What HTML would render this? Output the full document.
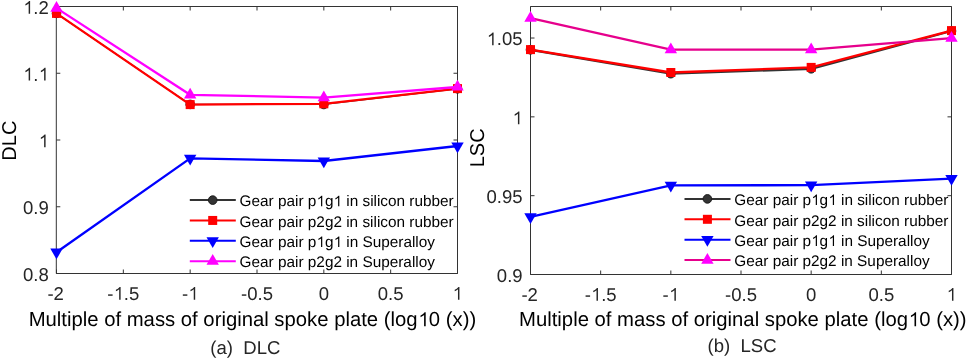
<!DOCTYPE html>
<html><head><meta charset="utf-8"><style>
html,body{margin:0;padding:0;background:#fff;}
body{width:968px;height:360px;overflow:hidden;}
svg{display:block;font-family:"Liberation Sans",sans-serif;will-change:transform;}
text{white-space:pre;font-kerning:none;text-rendering:geometricPrecision;}
.h{fill-opacity:0;}
</style></head><body>
<svg width="968" height="360" viewBox="0 0 968 360">
<rect width="968" height="360" fill="#ffffff"/>
<path d="M56.30 6.5H457.5V273.5H56.30Z" fill="none" stroke="#333333" stroke-width="1"/>
<path d="M56.50 273.5V269.5M56.50 6.5V10.5M123.33 273.5V269.5M123.33 6.5V10.5M190.17 273.5V269.5M190.17 6.5V10.5M257.00 273.5V269.5M257.00 6.5V10.5M323.83 273.5V269.5M323.83 6.5V10.5M390.67 273.5V269.5M390.67 6.5V10.5M457.50 273.5V269.5M457.50 6.5V10.5M56.30 273.50H60.30M457.5 273.50H453.5M56.30 206.75H60.30M457.5 206.75H453.5M56.30 140.00H60.30M457.5 140.00H453.5M56.30 73.25H60.30M457.5 73.25H453.5M56.30 6.50H60.30M457.5 6.50H453.5" stroke="#333333" stroke-width="1" fill="none"/>
<path d="M530.50 6.5H951.5V274.5H530.50Z" fill="none" stroke="#333333" stroke-width="1"/>
<path d="M530.50 274.5V270.5M530.50 6.5V10.5M600.67 274.5V270.5M600.67 6.5V10.5M670.83 274.5V270.5M670.83 6.5V10.5M741.00 274.5V270.5M741.00 6.5V10.5M811.17 274.5V270.5M811.17 6.5V10.5M881.33 274.5V270.5M881.33 6.5V10.5M951.50 274.5V270.5M951.50 6.5V10.5M530.50 274.50H534.50M951.5 274.50H947.5M530.50 195.68H534.50M951.5 195.68H947.5M530.50 116.85H534.50M951.5 116.85H947.5M530.50 38.03H534.50M951.5 38.03H947.5" stroke="#333333" stroke-width="1" fill="none"/>
<polyline points="56.50,13.40 190.17,104.40 323.83,104.50 457.50,88.80" fill="none" stroke="#333333" stroke-width="1.2" stroke-linejoin="miter"/>
<circle cx="56.50" cy="13.40" r="4.3" fill="#333333" stroke="#1c1c1c" stroke-width="1"/>
<circle cx="190.17" cy="104.40" r="4.3" fill="#333333" stroke="#1c1c1c" stroke-width="1"/>
<circle cx="323.83" cy="104.50" r="4.3" fill="#333333" stroke="#1c1c1c" stroke-width="1"/>
<circle cx="457.50" cy="88.80" r="4.3" fill="#333333" stroke="#1c1c1c" stroke-width="1"/>
<polyline points="56.50,13.40 190.17,104.60 323.83,103.80 457.50,88.60" fill="none" stroke="#ff0000" stroke-width="2.3" stroke-linejoin="miter"/>
<rect x="52.00" y="8.90" width="9.0" height="9.0" fill="#ff0000"/>
<rect x="185.67" y="100.10" width="9.0" height="9.0" fill="#ff0000"/>
<rect x="319.33" y="99.30" width="9.0" height="9.0" fill="#ff0000"/>
<rect x="453.00" y="84.10" width="9.0" height="9.0" fill="#ff0000"/>
<polyline points="56.50,252.20 190.17,158.30 323.83,161.00 457.50,146.00" fill="none" stroke="#0000ff" stroke-width="2.3" stroke-linejoin="miter"/>
<polygon points="56.50,259.36 50.30,248.62 62.70,248.62" fill="#0000ff"/>
<polygon points="190.17,165.46 183.97,154.72 196.37,154.72" fill="#0000ff"/>
<polygon points="323.83,168.16 317.63,157.42 330.03,157.42" fill="#0000ff"/>
<polygon points="457.50,153.16 451.30,142.42 463.70,142.42" fill="#0000ff"/>
<polyline points="56.50,8.10 190.17,94.80 323.83,97.60 457.50,87.00" fill="none" stroke="#ff00ff" stroke-width="2.3" stroke-linejoin="miter"/>
<polygon points="56.50,0.94 50.30,11.68 62.70,11.68" fill="#ff00ff"/>
<polygon points="190.17,87.64 183.97,98.38 196.37,98.38" fill="#ff00ff"/>
<polygon points="323.83,90.44 317.63,101.18 330.03,101.18" fill="#ff00ff"/>
<polygon points="457.50,79.84 451.30,90.58 463.70,90.58" fill="#ff00ff"/>
<polyline points="530.50,49.80 670.83,73.70 811.17,68.80 951.50,31.00" fill="none" stroke="#333333" stroke-width="2.3" stroke-linejoin="miter"/>
<circle cx="530.50" cy="49.80" r="4.3" fill="#333333" stroke="#1c1c1c" stroke-width="1"/>
<circle cx="670.83" cy="73.70" r="4.3" fill="#333333" stroke="#1c1c1c" stroke-width="1"/>
<circle cx="811.17" cy="68.80" r="4.3" fill="#333333" stroke="#1c1c1c" stroke-width="1"/>
<circle cx="951.50" cy="31.00" r="4.3" fill="#333333" stroke="#1c1c1c" stroke-width="1"/>
<polyline points="530.50,49.60 670.83,72.50 811.17,67.40 951.50,30.60" fill="none" stroke="#ff0000" stroke-width="2.3" stroke-linejoin="miter"/>
<rect x="526.00" y="45.10" width="9.0" height="9.0" fill="#ff0000"/>
<rect x="666.33" y="68.00" width="9.0" height="9.0" fill="#ff0000"/>
<rect x="806.67" y="62.90" width="9.0" height="9.0" fill="#ff0000"/>
<rect x="947.00" y="26.10" width="9.0" height="9.0" fill="#ff0000"/>
<polyline points="530.50,216.80 670.83,185.30 811.17,185.20 951.50,178.60" fill="none" stroke="#0000ff" stroke-width="2.3" stroke-linejoin="miter"/>
<polygon points="530.50,223.96 524.30,213.22 536.70,213.22" fill="#0000ff"/>
<polygon points="670.83,192.46 664.63,181.72 677.03,181.72" fill="#0000ff"/>
<polygon points="811.17,192.36 804.97,181.62 817.37,181.62" fill="#0000ff"/>
<polygon points="951.50,185.76 945.30,175.02 957.70,175.02" fill="#0000ff"/>
<polyline points="530.50,18.10 670.83,49.60 811.17,49.60 951.50,38.10" fill="none" stroke="#e6008c" stroke-width="2.3" stroke-linejoin="miter"/>
<polygon points="530.50,10.94 524.30,21.68 536.70,21.68" fill="#ff00ff"/>
<polygon points="670.83,42.44 664.63,53.18 677.03,53.18" fill="#ff00ff"/>
<polygon points="811.17,42.44 804.97,53.18 817.37,53.18" fill="#ff00ff"/>
<polygon points="951.50,30.94 945.30,41.68 957.70,41.68" fill="#ff00ff"/>
<text x="55.70" y="299.70" font-size="18.55" text-anchor="middle" fill="#262626">-2</text>
<text x="529.70" y="300.70" font-size="18.55" text-anchor="middle" fill="#262626">-2</text>
<text x="123.33" y="299.70" font-size="18.55" text-anchor="middle" fill="#262626">-<tspan class="h">1</tspan>.5</text>
<path d="M119.17 299.7V289.31L118.24 290.1L117.06 290.78L115.91 291.36V289.79L117.51 288.92L118.69 287.93L119.65 286.94H120.62V299.7Z" fill="#262626"/>
<text x="600.67" y="300.70" font-size="18.55" text-anchor="middle" fill="#262626">-<tspan class="h">1</tspan>.5</text>
<path d="M596.5 300.7V290.31L595.57 291.1L594.39 291.78L593.24 292.36V290.79L594.85 289.92L596.02 288.93L596.98 287.94H597.95V300.7Z" fill="#262626"/>
<text x="190.17" y="299.70" font-size="18.55" text-anchor="middle" fill="#262626">-<tspan class="h">1</tspan></text>
<path d="M193.74 299.7V289.31L192.81 290.1L191.63 290.78L190.48 291.36V289.79L192.08 288.92L193.26 287.93L194.22 286.94H195.19V299.7Z" fill="#262626"/>
<text x="670.83" y="300.70" font-size="18.55" text-anchor="middle" fill="#262626">-<tspan class="h">1</tspan></text>
<path d="M674.41 300.7V290.31L673.47 291.1L672.3 291.78L671.15 292.36V290.79L672.75 289.92L673.93 288.93L674.89 287.94H675.86V300.7Z" fill="#262626"/>
<text x="257.00" y="299.70" font-size="18.55" text-anchor="middle" fill="#262626">-0.5</text>
<text x="741.00" y="300.70" font-size="18.55" text-anchor="middle" fill="#262626">-0.5</text>
<text x="323.83" y="299.70" font-size="18.55" text-anchor="middle" fill="#262626">0</text>
<text x="811.17" y="300.70" font-size="18.55" text-anchor="middle" fill="#262626">0</text>
<text x="390.67" y="299.70" font-size="18.55" text-anchor="middle" fill="#262626">0.5</text>
<text x="881.33" y="300.70" font-size="18.55" text-anchor="middle" fill="#262626">0.5</text>
<text x="457.50" y="299.70" font-size="18.55" text-anchor="middle" fill="#262626"><tspan class="h">1</tspan></text>
<path d="M457.98 299.7V289.31L457.05 290.1L455.87 290.78L454.72 291.36V289.79L456.33 288.92L457.5 287.93L458.46 286.94H459.43V299.7Z" fill="#262626"/>
<text x="951.50" y="300.70" font-size="18.55" text-anchor="middle" fill="#262626"><tspan class="h">1</tspan></text>
<path d="M951.98 300.7V290.31L951.05 291.1L949.87 291.78L948.72 292.36V290.79L950.33 289.92L951.5 288.93L952.46 287.94H953.43V300.7Z" fill="#262626"/>
<text x="48.80" y="280.80" font-size="18.55" text-anchor="end" fill="#262626">0.8</text>
<text x="48.80" y="214.05" font-size="18.55" text-anchor="end" fill="#262626">0.9</text>
<text x="48.80" y="147.30" font-size="18.55" text-anchor="end" fill="#262626"><tspan class="h">1</tspan></text>
<path d="M44.13 147.3V136.91L43.19 137.7L42.02 138.38L40.87 138.96V137.39L42.47 136.52L43.65 135.53L44.61 134.54H45.58V147.3Z" fill="#262626"/>
<text x="48.80" y="80.55" font-size="18.55" text-anchor="end" fill="#262626"><tspan class="h">1</tspan>.<tspan class="h">1</tspan></text>
<path d="M28.66 80.55V70.16L27.72 70.95L26.55 71.63L25.4 72.21V70.64L27 69.77L28.18 68.78L29.14 67.79H30.11V80.55ZM44.13 80.55V70.16L43.19 70.95L42.02 71.63L40.87 72.21V70.64L42.47 69.77L43.65 68.78L44.61 67.79H45.58V80.55Z" fill="#262626"/>
<text x="48.80" y="13.80" font-size="18.55" text-anchor="end" fill="#262626"><tspan class="h">1</tspan>.2</text>
<path d="M28.66 13.8V3.41L27.72 4.2L26.55 4.88L25.4 5.46V3.89L27 3.02L28.18 2.03L29.14 1.04H30.11V13.8Z" fill="#262626"/>
<text x="522.60" y="281.80" font-size="18.55" text-anchor="end" fill="#262626">0.9</text>
<text x="522.60" y="202.98" font-size="18.55" text-anchor="end" fill="#262626">0.95</text>
<text x="522.60" y="124.15" font-size="18.55" text-anchor="end" fill="#262626"><tspan class="h">1</tspan></text>
<path d="M517.93 124.15V113.76L516.99 114.55L515.82 115.23L514.67 115.81V114.24L516.27 113.37L517.45 112.38L518.41 111.39H519.38V124.15Z" fill="#262626"/>
<text x="522.60" y="45.33" font-size="18.55" text-anchor="end" fill="#262626"><tspan class="h">1</tspan>.05</text>
<path d="M492.14 45.33V34.94L491.21 35.73L490.03 36.41L488.88 36.99V35.42L490.48 34.55L491.66 33.55L492.62 32.57H493.59V45.33Z" fill="#262626"/>
<text x="28.65" y="326.30" font-size="20.3" text-anchor="start" fill="#000">Multiple of mass of original spoke plate (log<tspan class="h">1</tspan>0 (x))</text>
<path d="M424.1 326.3V314.93L423.08 315.79L421.79 316.54L420.54 317.17V315.46L422.29 314.5L423.58 313.41L424.63 312.33H425.69V326.3Z" fill="#000"/>
<text x="519.05" y="326.30" font-size="20.3" text-anchor="start" fill="#000">Multiple of mass of original spoke plate (log<tspan class="h">1</tspan>0 (x))</text>
<path d="M914.5 326.3V314.93L913.48 315.79L912.19 316.54L910.94 317.17V315.46L912.69 314.5L913.98 313.41L915.03 312.33H916.09V326.3Z" fill="#000"/>
<text x="15.80" y="160.65" font-size="20.0" fill="#000" transform="rotate(-90 15.80 160.65)">DLC</text>
<text x="483.90" y="167.25" font-size="20.0" fill="#000" transform="rotate(-90 483.90 167.25)">LSC</text>
<text x="210.30" y="353.60" font-size="18.55" text-anchor="start" fill="#262626">(a)  DLC</text>
<text x="707.60" y="351.50" font-size="18.55" text-anchor="start" fill="#262626">(b)  LSC</text>
<path d="M189.80 200.10H235.80" stroke="#333333" stroke-width="2.0"/>
<circle cx="212.70" cy="200.10" r="4.3" fill="#333333" stroke="#1c1c1c" stroke-width="1"/>
<text x="239.60" y="206.30" font-size="15.35" text-anchor="start" fill="#000">Gear pair p<tspan class="h">1</tspan>g<tspan class="h">1</tspan> in silicon rubber</text>
<path d="M321.06 206.3V197.7L320.28 198.36L319.31 198.92L318.36 199.4V198.1L319.69 197.38L320.66 196.56L321.45 195.74H322.26V206.3ZM338.13 206.3V197.7L337.36 198.36L336.38 198.92L335.43 199.4V198.1L336.76 197.38L337.73 196.56L338.53 195.74H339.33V206.3Z" fill="#000"/>
<path d="M189.80 220.45H235.80" stroke="#ff0000" stroke-width="2.0"/>
<rect x="208.20" y="215.95" width="9.0" height="9.0" fill="#ff0000"/>
<text x="239.60" y="226.65" font-size="15.35" text-anchor="start" fill="#000">Gear pair p2g2 in silicon rubber</text>
<path d="M189.80 240.80H235.80" stroke="#0000ff" stroke-width="2.0"/>
<polygon points="212.70,247.96 206.50,237.22 218.90,237.22" fill="#0000ff"/>
<text x="239.60" y="247.00" font-size="15.35" text-anchor="start" fill="#000">Gear pair p<tspan class="h">1</tspan>g<tspan class="h">1</tspan> in Superalloy</text>
<path d="M321.06 247V238.4L320.28 239.06L319.31 239.62L318.36 240.1V238.8L319.69 238.08L320.66 237.26L321.45 236.44H322.26V247ZM338.13 247V238.4L337.36 239.06L336.38 239.62L335.43 240.1V238.8L336.76 238.08L337.73 237.26L338.53 236.44H339.33V247Z" fill="#000"/>
<path d="M189.80 261.15H235.80" stroke="#ff00ff" stroke-width="2.0"/>
<polygon points="212.70,253.99 206.50,264.73 218.90,264.73" fill="#ff00ff"/>
<text x="239.60" y="267.35" font-size="15.35" text-anchor="start" fill="#000">Gear pair p2g2 in Superalloy</text>
<path d="M684.50 198.90H730.50" stroke="#333333" stroke-width="2.0"/>
<circle cx="707.40" cy="198.90" r="4.3" fill="#333333" stroke="#1c1c1c" stroke-width="1"/>
<text x="734.30" y="205.10" font-size="15.35" text-anchor="start" fill="#000">Gear pair p<tspan class="h">1</tspan>g<tspan class="h">1</tspan> in silicon rubber</text>
<path d="M815.76 205.1V196.5L814.98 197.16L814.01 197.72L813.06 198.2V196.9L814.39 196.18L815.36 195.36L816.15 194.54H816.96V205.1ZM832.83 205.1V196.5L832.06 197.16L831.08 197.72L830.13 198.2V196.9L831.46 196.18L832.43 195.36L833.23 194.54H834.03V205.1Z" fill="#000"/>
<path d="M684.50 219.30H730.50" stroke="#ff0000" stroke-width="2.0"/>
<rect x="702.90" y="214.80" width="9.0" height="9.0" fill="#ff0000"/>
<text x="734.30" y="225.50" font-size="15.35" text-anchor="start" fill="#000">Gear pair p2g2 in silicon rubber</text>
<path d="M684.50 239.70H730.50" stroke="#0000ff" stroke-width="2.0"/>
<polygon points="707.40,246.86 701.20,236.12 713.60,236.12" fill="#0000ff"/>
<text x="734.30" y="245.90" font-size="15.35" text-anchor="start" fill="#000">Gear pair p<tspan class="h">1</tspan>g<tspan class="h">1</tspan> in Superalloy</text>
<path d="M815.76 245.9V237.3L814.98 237.96L814.01 238.52L813.06 239V237.7L814.39 236.98L815.36 236.16L816.15 235.34H816.96V245.9ZM832.83 245.9V237.3L832.06 237.96L831.08 238.52L830.13 239V237.7L831.46 236.98L832.43 236.16L833.23 235.34H834.03V245.9Z" fill="#000"/>
<path d="M684.50 260.10H730.50" stroke="#e6008c" stroke-width="2.0"/>
<polygon points="707.40,252.94 701.20,263.68 713.60,263.68" fill="#ff00ff"/>
<text x="734.30" y="266.30" font-size="15.35" text-anchor="start" fill="#000">Gear pair p2g2 in Superalloy</text>
</svg>
</body></html>
